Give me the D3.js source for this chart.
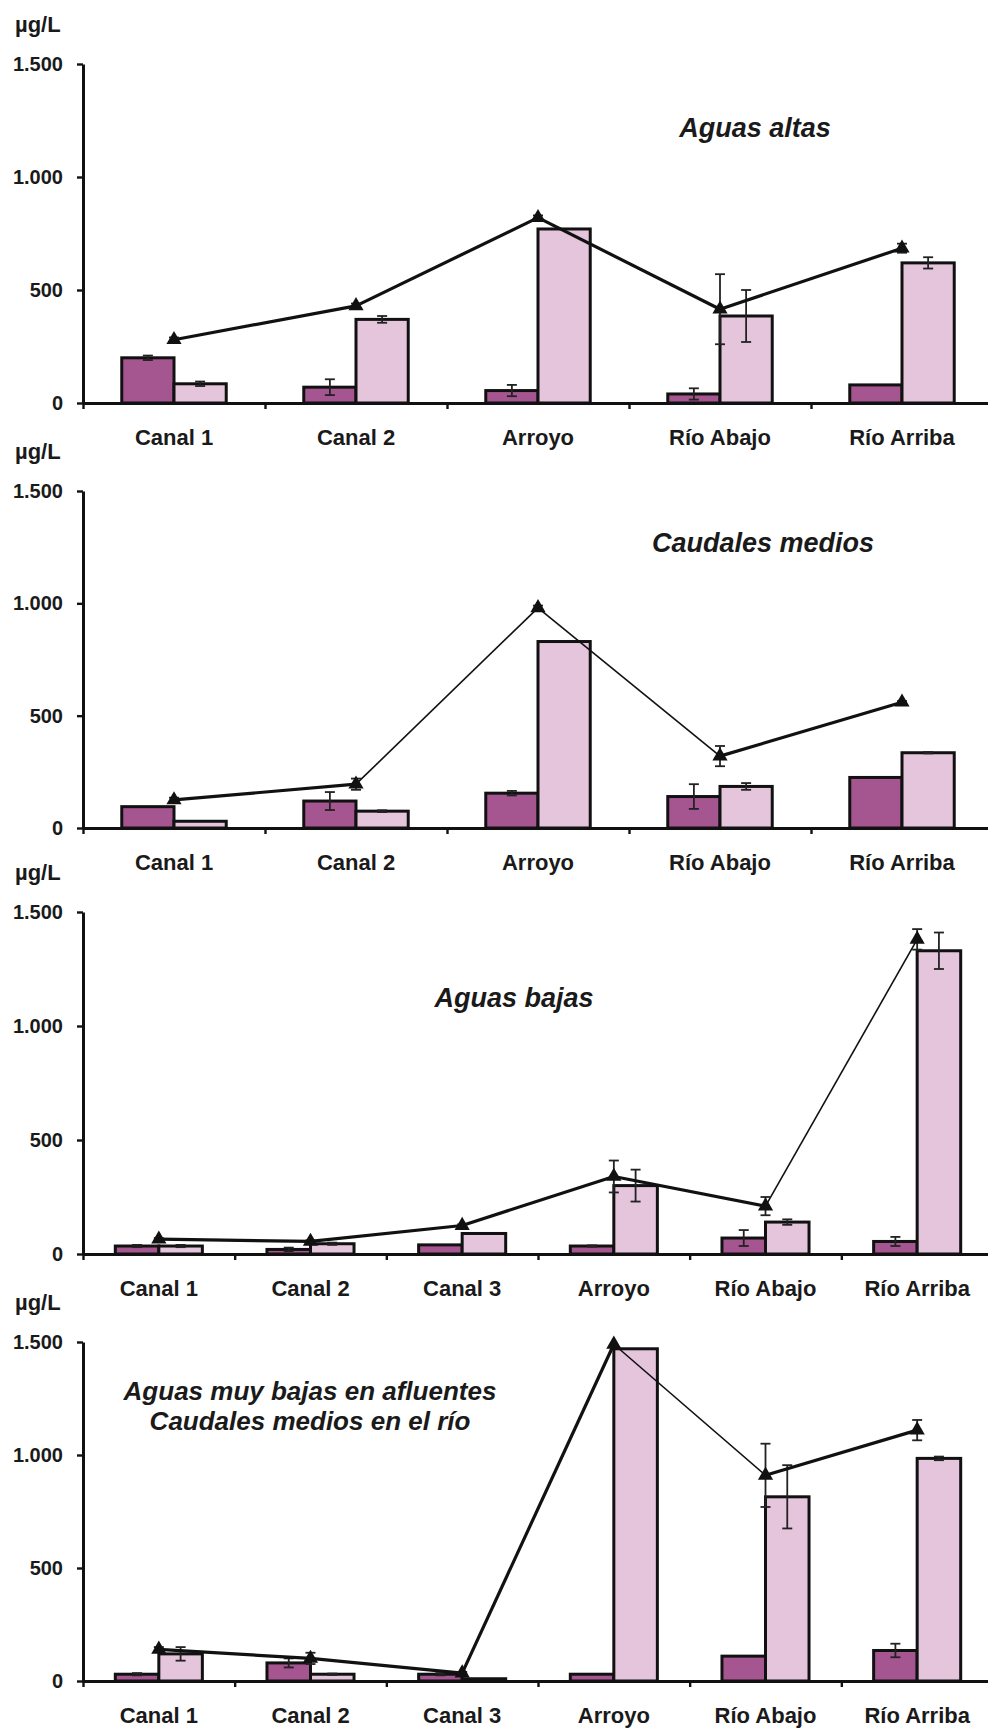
<!DOCTYPE html>
<html>
<head>
<meta charset="utf-8">
<script src="https://cdn.jsdelivr.net/npm/d3@7"></script>
<style>
  body { margin: 0; background: #fff; }
  svg { display: block; font-family: "Liberation Sans", Arial, sans-serif; }
</style>
</head>
<body>
<svg id="chart" width="988" height="1728"></svg>
<script>
// categories per panel
const cats5 = ['Canal 1', 'Canal 2', 'Arroyo', 'Río Abajo', 'Río Arriba'];
const cats6 = ['Canal 1', 'Canal 2', 'Canal 3', 'Arroyo', 'Río Abajo', 'Río Arriba'];

const titles = [
  ['Aguas altas'],
  ['Caudales medios'],
  ['Aguas bajas'],
  ['Aguas muy bajas en afluentes', 'Caudales medios en el río']
];

// dark bars
const darkAltas = [200, 70, 55, 40, 80];
const darkAltasErr = [10, 35, 25, 25, 0];
const darkMedios = [95, 120, 155, 140, 225];
const darkMediosErr = [0, 40, 10, 55, 0];
const darkBajas = [35, 20, 40, 35, 70, 55];
const darkBajasErr = [5, 8, 0, 3, 35, 20];
const darkMuyBajas = [30, 80, 30, 30, 110, 135];
const darkMuyBajasErr = [5, 20, 5, 0, 0, 30];

// light bars
const lightAltas = [85, 370, 770, 385, 620];
const lightAltasErr = [10, 15, 0, 115, 25];
const lightMedios = [30, 75, 830, 185, 335];
const lightMediosErr = [0, 4, 0, 15, 3];
const lightBajas = [35, 45, 90, 300, 140, 1330];
const lightBajasErr = [5, 5, 0, 70, 12, 80];
const lightMuyBajas = [120, 30, 10, 1470, 815, 985];
const lightMuyBajasErr = [30, 3, 0, 0, 140, 8];

// line (triangles)
const lineAltas = [280, 430, 820, 415, 685];
const lineAltasErr = [10, 10, 10, 155, 20];
const lineMedios = [125, 195, 980, 320, 560];
const lineMediosErr = [10, 25, 10, 45, 5];
const lineBajas = [65, 55, 125, 340, 210, 1380];
const lineBajasErr = [5, 5, 5, 70, 40, 45];
const lineMuyBajas = [140, 100, 35, 1490, 910, 1110];
const lineMuyBajasErr = [10, 25, 5, 0, 140, 45];

const yTicks = [0, 500, 1000, 1500];

const panels = [
  { cats: cats5, dark: darkAltas, darkErr: darkAltasErr, light: lightAltas, lightErr: lightAltasErr, line: lineAltas, lineErr: lineAltasErr, title: titles[0] },
  { cats: cats5, dark: darkMedios, darkErr: darkMediosErr, light: lightMedios, lightErr: lightMediosErr, line: lineMedios, lineErr: lineMediosErr, title: titles[1] },
  { cats: cats6, dark: darkBajas, darkErr: darkBajasErr, light: lightBajas, lightErr: lightBajasErr, line: lineBajas, lineErr: lineBajasErr, title: titles[2] },
  { cats: cats6, dark: darkMuyBajas, darkErr: darkMuyBajasErr, light: lightMuyBajas, lightErr: lightMuyBajasErr, line: lineMuyBajas, lineErr: lineMuyBajasErr, title: titles[3] }
];

// layout / style per panel
const layout = [
  { top: 64, bottom: 403, titleX: 755, titleY: 137, thin: [] },
  { top: 491, bottom: 828, titleX: 763, titleY: 552, thin: [1, 2] },
  { top: 912, bottom: 1254, titleX: 514, titleY: 1007, thin: [4] },
  { top: 1342, bottom: 1681, titleX: 310, titleY: 1400, thin: [3] }
];

const DARK = '#a5558f';
const LIGHT = '#e4c5dc';
const left = 83, right = 993;

const fmt = d3.formatLocale({ decimal: ',', thousands: '.', grouping: [3], currency: ['', ''] }).format(',');

const svg = d3.select('#chart');

panels.forEach((p, pi) => {
  const L = layout[pi];
  const g = svg.append('g');

  const x = d3.scaleBand().domain(p.cats).range([left, right]).padding(0);
  const bw = x.bandwidth();
  const xs = d3.scaleBand().domain(['dark', 'light']).range([bw * 0.213, bw * 0.787]);
  const xi = d3.scaleLinear().domain([0, p.cats.length]).range([left, right]);
  const y = d3.scaleLinear().domain([0, 1500]).range([L.bottom, L.top]);

  // bars
  const rows = p.cats.map((c, i) => ({ c, i }));
  [['dark', p.dark, DARK], ['light', p.light, LIGHT]].forEach(([key, vals, col]) => {
    g.append('g').selectAll('rect').data(rows).join('rect')
      .attr('x', d => x(d.c) + xs(key))
      .attr('y', d => y(vals[d.i]))
      .attr('width', xs.bandwidth())
      .attr('height', d => y(0) - y(vals[d.i]))
      .attr('fill', col)
      .attr('stroke', '#111')
      .attr('stroke-width', 3);
  });

  // error bars
  function errBars(cx, vals, errs) {
    const eg = g.append('g').attr('stroke', '#222').attr('stroke-width', 1.8);
    rows.filter(d => errs[d.i] > 0).forEach(d => {
      const xc = cx(d);
      const lo = y(Math.max(0, vals[d.i] - errs[d.i])), hi = y(vals[d.i] + errs[d.i]);
      eg.append('line').attr('x1', xc).attr('x2', xc).attr('y1', lo).attr('y2', hi);
      eg.append('line').attr('x1', xc - 5).attr('x2', xc + 5).attr('y1', lo).attr('y2', lo);
      eg.append('line').attr('x1', xc - 5).attr('x2', xc + 5).attr('y1', hi).attr('y2', hi);
    });
  }
  errBars(d => x(d.c) + xs('dark') + xs.bandwidth() / 2, p.dark, p.darkErr);
  errBars(d => x(d.c) + xs('light') + xs.bandwidth() / 2, p.light, p.lightErr);

  // line
  const cx = d => x(d.c) + bw / 2;
  d3.pairs(rows).forEach(([a, b], si) => {
    g.append('line')
      .attr('x1', cx(a)).attr('y1', y(p.line[a.i]))
      .attr('x2', cx(b)).attr('y2', y(p.line[b.i]))
      .attr('stroke', '#111')
      .attr('stroke-width', L.thin.includes(si) ? 1.6 : 3.2);
  });
  errBars(cx, p.line, p.lineErr);
  g.append('g').selectAll('path').data(rows).join('path')
    .attr('d', d3.symbol(d3.symbolTriangle, 100))
    .attr('transform', d => `translate(${cx(d)},${y(p.line[d.i])})`)
    .attr('fill', '#111');

  // y axis
  const ya = g.append('g')
    .attr('transform', `translate(${left},0)`)
    .call(d3.axisLeft(y).tickValues(yTicks).tickFormat(fmt).tickSize(6).tickSizeOuter(0).tickPadding(14));
  ya.select('.domain').attr('stroke', '#111').attr('stroke-width', 3);
  ya.selectAll('.tick line').attr('stroke', '#111').attr('stroke-width', 2.4);
  ya.selectAll('text').attr('font-size', 20).attr('font-weight', 'bold').attr('fill', '#1a1a1a');

  // x axis (boundary ticks)
  const xa = g.append('g')
    .attr('transform', `translate(0,${L.bottom})`)
    .call(d3.axisBottom(xi).tickValues(d3.range(0, p.cats.length + 1)).tickFormat('').tickSize(6).tickSizeOuter(0));
  xa.select('.domain').attr('stroke', '#111').attr('stroke-width', 3);
  xa.selectAll('.tick line').attr('stroke', '#111').attr('stroke-width', 2.4);

  // category labels
  const xl = g.append('g')
    .attr('transform', `translate(0,${L.bottom})`)
    .call(d3.axisBottom(x).tickSize(0).tickPadding(26));
  xl.select('.domain').remove();
  xl.selectAll('text').attr('font-size', 22).attr('font-weight', 'bold').attr('fill', '#1a1a1a');

  // unit label
  g.append('text')
    .attr('x', 15).attr('y', L.top - 32)
    .attr('font-size', 22).attr('font-weight', 'bold').attr('fill', '#1a1a1a')
    .text('µg/L');

  // title
  p.title.forEach((t, ti) => {
    g.append('text')
      .attr('x', L.titleX).attr('y', L.titleY + ti * 30)
      .attr('text-anchor', 'middle')
      .attr('font-size', p.title.length > 1 ? 26 : 27)
      .attr('font-weight', 'bold').attr('font-style', 'italic').attr('fill', '#1a1a1a')
      .text(t);
  });
});
</script>
</body>
</html>
